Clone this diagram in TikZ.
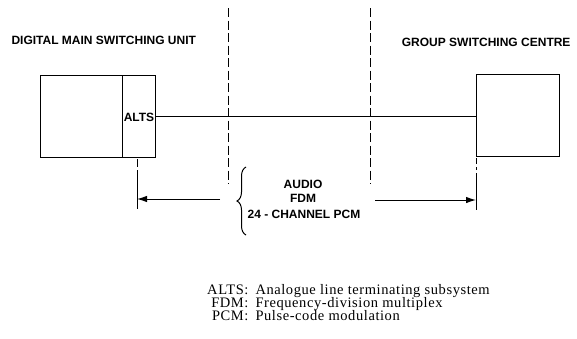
\documentclass[tikz,border=0pt]{standalone}
\usepackage{fontspec}
\setmainfont{Liberation Serif}
\newfontfamily\labelfont{Liberation Sans}
\newfontfamily\legendfont[LetterSpace=4]{Liberation Serif}
\usetikzlibrary{decorations.pathreplacing,arrows.meta}
\begin{document}
\begin{tikzpicture}[x=1pt,y=-1pt,
  line width=1pt,
  lbl/.style={font=\labelfont\bfseries\fontsize{12}{14}\selectfont, inner sep=0pt},
  unit/.style={draw, inner sep=0pt, anchor=north west},
  dsh/.style={dash pattern=on 9pt off 3.5pt, line width=1pt},
  arr/.style={-{Latex[length=10pt,width=6.5pt]}},
  leg/.style={font=\legendfont\fontsize{14.5}{13}\selectfont, inner sep=0pt}]
\useasboundingbox (0,0) rectangle (577,338);
% titles
\node[lbl, anchor=base west] (dmsu) at (11,44.5) {DIGITAL MAIN SWITCHING UNIT};
\node[lbl, anchor=base east] (gsc) at (571,46.5) {GROUP SWITCHING CENTRE};
% left unit
\node[unit, minimum width=115pt, minimum height=82pt] (dmain) at (40,75) {};
\node[unit, minimum width=33pt, minimum height=82pt] (alts) at (122,75) {};
\node[lbl, anchor=base] (altslbl) at (alts.center |- 0,121) {ALTS};
% right unit
\node[unit, minimum width=83pt, minimum height=82pt] (gbox) at (476,74) {};
% link
\draw (alts.east |- 0,116) -- (gbox.west |- 0,116);
% dashed boundaries
\coordinate (d1t) at (228,8); \coordinate (d1b) at (228,184);
\coordinate (d2t) at (370,8); \coordinate (d2b) at (370,184);
\draw[dsh] (d1t) -- (d1b);
\draw[dsh] (d2t) -- (d2b);
% extension lines
\coordinate (e1t) at (137,159); \coordinate (e1b) at (137,209);
\coordinate (e2t) at (476,158); \coordinate (e2b) at (476,210);
\draw[line width=1pt, dash pattern=on 8pt off 3pt on 40pt off 0pt] (e1t) -- (e1b);
\draw[line width=1pt, dash pattern=on 6pt off 3pt on 3pt off 3pt on 40pt off 0pt] (e2t) -- (e2b);
% arrows
\coordinate (a1s) at (220,199); \coordinate (a1e) at (137,199);
\coordinate (a2s) at (375,200); \coordinate (a2e) at (476,200);
\draw[arr] (a1s) -- (a1e);
\draw[arr] (a2s) -- (a2e);
% brace and media
\coordinate (brT) at (246,167); \coordinate (brB) at (246,235);
\draw[decorate, decoration={brace, amplitude=9pt}, line width=1pt] (brB) -- (brT);
\node[lbl, anchor=base] (m1) at (303,188) {AUDIO};
\node[lbl, anchor=base] (m2) at (303,202.5) {FDM};
\node[lbl, anchor=base] (m3) at (304,218) {24 - CHANNEL PCM};
% legend
\node[leg, anchor=base east] (k1) at (249,294.5) {ALTS:};
\node[leg, anchor=base west] (v1) at (255,294.5) {Analogue line terminating subsystem};
\node[leg, anchor=base east] (k2) at (249,307.5) {FDM:};
\node[leg, anchor=base west] (v2) at (255,307.5) {Frequency-division multiplex};
\node[leg, anchor=base east] (k3) at (249,320.5) {PCM:};
\node[leg, anchor=base west] (v3) at (255,320.5) {Pulse-code modulation};
\end{tikzpicture}
\end{document}
